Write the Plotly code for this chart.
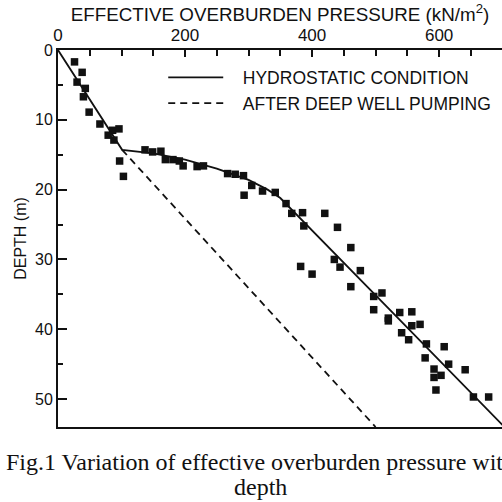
import plotly.graph_objects as go

# Measured data (effective overburden pressure kN/m2, depth m)
obs_pressure = [26, 38, 30, 43, 40, 49, 66, 86, 96, 79, 88, 97, 103, 137, 149, 162, 169, 181, 191, 197,
                219, 229, 267, 279, 292, 305, 293, 322, 342, 359, 368, 385, 420, 387, 440, 461, 435, 444,
                382, 400, 476, 461, 497, 510, 497, 538, 520, 557, 520, 557, 570, 541, 552, 580, 608, 578,
                615, 592, 641, 603, 592, 595, 654, 678]
obs_depth = [1.7, 3.2, 4.6, 5.5, 6.7, 8.9, 10.6, 11.5, 11.3, 12.2, 12.9, 15.9, 18.1, 14.3, 14.6, 14.5, 15.7, 15.7, 15.9, 16.6,
             16.7, 16.6, 17.7, 17.8, 18.0, 19.4, 20.8, 20.2, 20.4, 22.0, 23.4, 23.3, 23.4, 25.2, 25.4, 28.3, 30.0, 31.1,
             31.0, 32.1, 31.6, 33.9, 35.3, 34.8, 37.2, 37.6, 38.4, 37.5, 38.8, 39.5, 39.3, 40.5, 41.5, 42.1, 42.5, 44.1,
             45.0, 45.7, 45.8, 46.6, 46.9, 48.7, 49.7, 49.7]

hydro_pressure = [0, 101, 150, 200, 250, 300, 330, 350, 533, 720]
hydro_depth = [0, 14.3, 14.8, 15.7, 17.0, 18.6, 20.0, 21.2, 38.2, 55.6]

pump_pressure = [101, 500]
pump_depth = [14.3, 54.0]

x_ticks = [0, 200, 400, 600]
y_ticks = [0, 10, 20, 30, 40, 50]

caption_lines = ["Fig.1 Variation of effective overburden pressure with", "depth"]

INK = "#111111"
PAD = "\u00a0\u00a0\u00a0"

fig = go.Figure()
fig.add_trace(go.Scatter(x=hydro_pressure, y=hydro_depth, mode="lines",
                         line=dict(color=INK, width=1.8), name=PAD + "HYDROSTATIC CONDITION"))
fig.add_trace(go.Scatter(x=pump_pressure, y=pump_depth, mode="lines",
                         line=dict(color=INK, width=1.8, dash="7px,5px"), name=PAD + "AFTER DEEP WELL PUMPING"))
fig.add_trace(go.Scatter(x=obs_pressure, y=obs_depth, mode="markers",
                         marker=dict(symbol="square", size=7.5, color=INK), showlegend=False,
                         cliponaxis=True))

fig.update_layout(
    width=502, height=502,
    margin=dict(l=58, r=0, t=50, b=75),
    paper_bgcolor="white", plot_bgcolor="white",
    font=dict(family="Liberation Sans, Arial, sans-serif", color=INK),
    showlegend=True,
    legend=dict(x=0.237, y=0.975, xanchor="left", yanchor="top",
                bgcolor="rgba(0,0,0,0)", font=dict(size=17.5, color=INK),
                itemwidth=55, tracegroupgap=0),
    xaxis=dict(side="top", range=[0, 699], tickvals=x_ticks, ticks="inside", ticklen=7,
               tickwidth=1.5, tickcolor=INK, showline=True, linewidth=2, linecolor=INK,
               mirror=True, showgrid=False, zeroline=False,
               tickfont=dict(size=17),
               minor=dict(dtick=50, ticks="inside", ticklen=6, tickwidth=1.5, tickcolor=INK, showgrid=False),
               title=dict(text="EFFECTIVE OVERBURDEN PRESSURE (kN/m<sup>2</sup>)", font=dict(size=18.8), standoff=0)),
    yaxis=dict(range=[54, 0], tickvals=y_ticks, ticks="inside", ticklen=9, tickwidth=1.5,
               tickcolor=INK, showline=True, linewidth=2, linecolor=INK, mirror=False,
               showgrid=False, zeroline=False, tickfont=dict(size=16),
               minor=dict(dtick=5, ticks="inside", ticklen=5, tickwidth=1.5, tickcolor=INK, showgrid=False),
               title=dict(text="DEPTH (m)", font=dict(size=16), standoff=4)),
)

for i, line in enumerate(caption_lines):
    fig.add_annotation(text=line, xref="paper", yref="paper", x=(260 - 58) / 444,
                       y=(502 - 75 - (462 + 25 * i)) / 377,
                       xanchor="center", yanchor="middle", showarrow=False,
                       font=dict(family="Liberation Serif, Times New Roman, serif", size=24, color=INK))

fig.write_html("out.html")
